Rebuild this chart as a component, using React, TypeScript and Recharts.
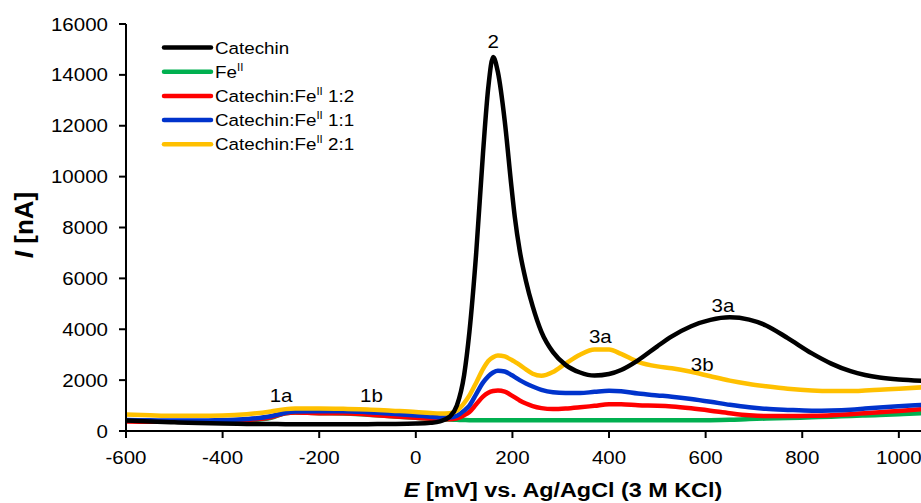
import React from "react";
import {
  LineChart,
  Line,
  XAxis,
  YAxis,
  Legend,
  Label,
  ReferenceDot,
} from "recharts";

// potentials [mV] shared by all voltammograms
const POTENTIAL = [
  -600, -550, -500, -450, -400, -350, -300, -270, -250, -200, -150, -100, -50, 0, 30, 50, 70, 85,
  100, 111, 125, 139, 150, 160, 170, 184, 198, 205, 215, 228, 242, 260, 284, 310, 340, 370, 400,
  425, 460, 500, 530, 570, 610, 650, 690, 725, 770, 820, 860, 900, 930, 960, 1000, 1050,
];

// currents [nA]
const CATECHIN = [
  410, 370, 340, 310, 290, 280, 275, 270, 270, 270, 270, 270, 275, 290, 320, 380, 560, 1000,
  2200, 3900, 7000, 10900, 13500, 14700, 14100, 12200, 9600, 8400, 7100, 5900, 4900, 3900, 3100,
  2600, 2300, 2180, 2240, 2400, 2780, 3330, 3720, 4120, 4370, 4470, 4380, 4150, 3650, 3050, 2650,
  2350, 2200, 2100, 2020, 1970,
];
const FE = [
  400, 380, 370, 370, 380, 410, 520, 700, 730, 700, 690, 640, 580, 520, 480, 460, 450, 440, 430,
  425, 420, 420, 420, 420, 420, 420, 420, 420, 420, 420, 420, 420, 420, 420, 420, 420, 420, 420,
  420, 420, 420, 420, 425, 440, 470, 490, 510, 540, 560, 590, 610, 630, 660, 700,
];
const MIX_1_2 = [
  370, 360, 360, 370, 390, 430, 540, 700, 730, 700, 700, 650, 580, 520, 480, 460, 460, 500, 620,
  750, 1050, 1350, 1500, 1570, 1590, 1550, 1400, 1320, 1200, 1080, 980, 900, 860, 880, 930, 990,
  1050, 1050, 1010, 990, 960, 890, 800, 700, 620, 590, 590, 600, 620, 660, 700, 740, 790, 860,
];
const MIX_1_1 = [
  430, 420, 410, 410, 430, 470, 580, 720, 770, 780, 780, 740, 680, 610, 560, 530, 530, 600, 800,
  1000, 1450, 1900, 2150, 2300, 2370, 2340, 2200, 2120, 2000, 1870, 1750, 1620, 1520, 1490, 1490,
  1540, 1580, 1560, 1470, 1400, 1350, 1260, 1150, 1030, 930, 870, 830, 800, 810, 840, 880, 920,
  970, 1030,
];
const MIX_2_1 = [
  650, 620, 600, 600, 610, 660, 770, 860, 880, 880, 870, 850, 800, 750, 710, 690, 700, 800, 1100,
  1400, 1900, 2430, 2750, 2900, 2970, 2930, 2800, 2720, 2600, 2420, 2250, 2170, 2320, 2650, 3000,
  3200, 3200, 3030, 2720, 2540, 2470, 2330, 2150, 1980, 1850, 1760, 1660, 1590, 1570, 1570, 1590,
  1620, 1660, 1720,
];

const X_TICKS = [-600, -400, -200, 0, 200, 400, 600, 800, 1000];
const Y_TICKS = [0, 2000, 4000, 6000, 8000, 10000, 12000, 14000, 16000];

// peak labels
const NOTE_TEXT = ["2", "3a", "3a", "3b", "1a", "1b"];
const NOTE_E = [160, 636, 382, 593, -279, -92];
const NOTE_I = [15300, 4930, 3700, 2610, 1395, 1395];

const FONT = "'Liberation Sans', Arial, Helvetica, sans-serif";
const STRETCH = 1.14;

const rows = POTENTIAL.map((e, i) => ({
  e,
  cat: CATECHIN[i],
  fe: FE[i],
  r12: MIX_1_2[i],
  r11: MIX_1_1[i],
  r21: MIX_2_1[i],
}));

// drawing order (catechin on top)
const SERIES = [
  { key: "fe", color: "#00b050" },
  { key: "r12", color: "#ff0000" },
  { key: "r11", color: "#0033cc" },
  { key: "r21", color: "#ffc000" },
  { key: "cat", color: "#000000" },
];

const LEGEND = [
  { label: "Catechin", ratio: null, fe: false, color: "#000000" },
  { label: "Fe", ratio: null, fe: true, color: "#00b050" },
  { label: "Catechin:Fe", ratio: "1:2", fe: true, color: "#ff0000" },
  { label: "Catechin:Fe", ratio: "1:1", fe: true, color: "#0033cc" },
  { label: "Catechin:Fe", ratio: "2:1", fe: true, color: "#ffc000" },
];

function WideText({ x, y, anchor = "middle", size = 18, weight = "normal", children }: any) {
  return (
    <text
      transform={`translate(${x},${y}) scale(${STRETCH},1)`}
      textAnchor={anchor}
      fontFamily={FONT}
      fontSize={size}
      fontWeight={weight}
      fill="#000"
    >
      {children}
    </text>
  );
}

const XTick = ({ x, y, payload }: any) => (
  <WideText x={x} y={y + 24}>{payload.value}</WideText>
);

const YTick = ({ x, y, payload }: any) => (
  <WideText x={x - 9} y={y + 6.5} anchor="end">{payload.value}</WideText>
);

const LegendBox = () => (
  <svg width={420} height={160} style={{ display: "block" }}>
    {LEGEND.map((s, i) => {
      const y = 47.5 + i * 24.2;
      return (
        <g key={i}>
          <line x1={164} x2={211} y1={y} y2={y} stroke={s.color} strokeWidth={4.5} strokeLinecap="round" />
          <WideText x={215} y={y + 6} anchor="start" size={16.5}>
            {s.label}
            {s.fe && (
              <tspan fontSize={10} dy={-7}>
                II
              </tspan>
            )}
            {s.ratio && <tspan dy={7}>{" " + s.ratio}</tspan>}
          </WideText>
        </g>
      );
    })}
  </svg>
);

export default function App() {
  return (
    <div
      style={{
        position: "absolute",
        left: 0,
        top: 0,
        width: 921,
        height: 503,
        overflow: "hidden",
        background: "#fff",
      }}
    >
      <LineChart width={945} height={503} data={rows} margin={{ top: 24, right: 22, left: 0, bottom: 0 }}>
        <XAxis
          dataKey="e"
          type="number"
          domain={[-600, 1050]}
          ticks={X_TICKS}
          allowDataOverflow
          height={72}
          tick={<XTick />}
          tickSize={7}
          axisLine={{ stroke: "#000", strokeWidth: 2 }}
          tickLine={{ stroke: "#000", strokeWidth: 2 }}
        >
          <Label
            content={() => (
              <WideText x={563} y={497} size={20.5} weight="bold">
                <tspan fontStyle="italic">E</tspan> [mV] vs. Ag/AgCl (3 M KCl)
              </WideText>
            )}
          />
        </XAxis>
        <YAxis
          type="number"
          domain={[0, 16000]}
          ticks={Y_TICKS}
          width={126}
          tick={<YTick />}
          tickSize={7}
          axisLine={{ stroke: "#000", strokeWidth: 2 }}
          tickLine={{ stroke: "#000", strokeWidth: 2 }}
        >
          <Label
            content={() => (
              <text
                transform="translate(33,225) rotate(-90)"
                textAnchor="middle"
                fontFamily={FONT}
                fontSize={26}
                fontWeight="bold"
                fill="#000"
              >
                <tspan fontStyle="italic">I</tspan> [nA]
              </text>
            )}
          />
        </YAxis>
        <Legend
          layout="vertical"
          align="center"
          verticalAlign="middle"
          wrapperStyle={{ left: 0, top: 0, width: 420, height: 160 }}
          content={<LegendBox />}
        />
        {SERIES.map((s) => (
          <Line
            key={s.key}
            dataKey={s.key}
            type="monotone"
            stroke={s.color}
            strokeWidth={4.5}
            dot={false}
            activeDot={false}
            isAnimationActive={false}
          />
        ))}
        {NOTE_TEXT.map((t, i) => (
          <ReferenceDot
            key={i}
            x={NOTE_E[i]}
            y={NOTE_I[i]}
            r={0}
            shape={(p: any) => (
              <WideText x={p.cx} y={p.cy + 6.5} size={18}>
                {t}
              </WideText>
            )}
          />
        ))}
      </LineChart>
    </div>
  );
}
